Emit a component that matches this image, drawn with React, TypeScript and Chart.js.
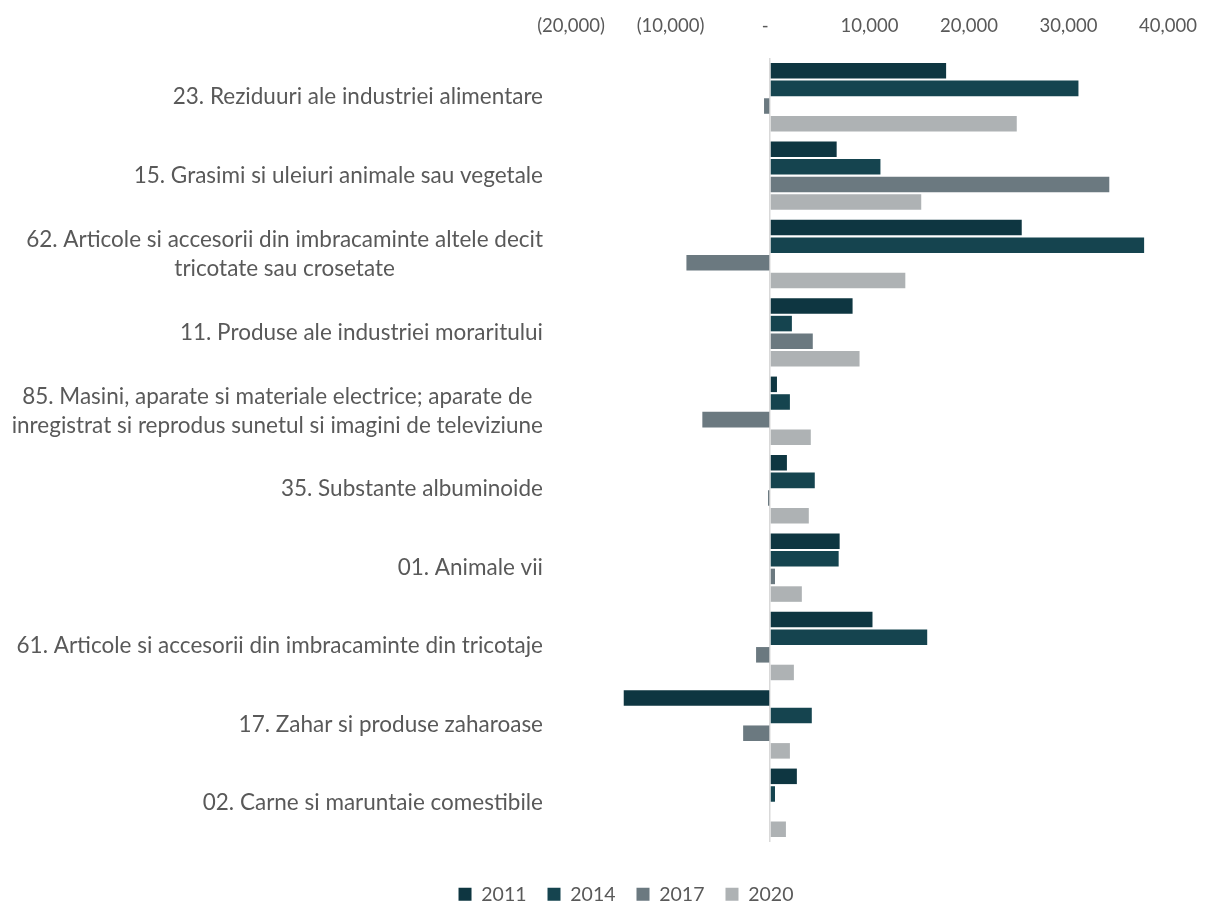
import React, { useEffect, useRef } from "react";
import { Chart, registerables } from "chart.js";

Chart.register(...registerables);

const categories: string[][] = [
  ["23. Reziduuri ale industriei alimentare"],
  ["15. Grasimi si uleiuri animale sau vegetale"],
  ["62. Articole si accesorii din imbracaminte altele decit", "tricotate sau crosetate"],
  ["11. Produse ale industriei moraritului"],
  ["85. Masini, aparate si materiale electrice; aparate de", "inregistrat si reprodus sunetul si imagini de televiziune"],
  ["35. Substante albuminoide"],
  ["01. Animale vii"],
  ["61. Articole si accesorii din imbracaminte din tricotaje"],
  ["17. Zahar si produse zaharoase"],
  ["02. Carne si maruntaie comestibile"],
];

const seriesNames = ["2011", "2014", "2017", "2020"];
const values2011 = [17700, 6700, 25300, 8300, 700, 1700, 7000, 10300, -14700, 2700];
const values2014 = [31000, 11100, 37600, 2200, 2000, 4500, 6900, 15800, 4200, 500];
const values2017 = [-600, 34100, -8400, 4300, -6800, -200, 500, -1400, -2700, 0];
const values2020 = [24800, 15200, 13600, 9000, 4100, 3900, 3200, 2400, 2000, 1600];
const seriesColors = ["#0E3641", "#15444F", "#6B7980", "#AEB2B4"];

const xMin = -20000;
const xMax = 40000;
const xStep = 10000;

const FONT = "Lato";
const TEXT = "#595959";

function fmtTick(v: number): string {
  if (v === 0) return "-  ";
  const s = Math.abs(v).toLocaleString("en-US");
  return v < 0 ? `(${s})` : s;
}

const yLabelPlugin = {
  id: "yLabels",
  afterDraw(chart: any) {
    const ctx = chart.ctx;
    const yScale = chart.scales.y;
    const right = chart.chartArea.left - 28;
    ctx.save();
    ctx.font = `22.5px ${FONT}`;
    ctx.fillStyle = TEXT;
    ctx.textAlign = "center";
    ctx.textBaseline = "middle";
    const lh = 29;
    categories.forEach((lines, i) => {
      const cy = yScale.getPixelForValue(i);
      const maxW = Math.max(...lines.map((l) => ctx.measureText(l).width));
      const cx = right - maxW / 2;
      lines.forEach((line, j) => {
        ctx.fillText(line, cx, cy + (j - (lines.length - 1) / 2) * lh);
      });
    });
    ctx.restore();
  },
};

export default function App() {
  const ref = useRef<HTMLCanvasElement>(null);
  useEffect(() => {
    if (!ref.current) return;
    const all = [values2011, values2014, values2017, values2020];
    const chart = new Chart(ref.current, {
      type: "bar",
      data: {
        labels: categories,
        datasets: seriesNames.map((name, i) => ({
          label: name,
          data: all[i],
          backgroundColor: seriesColors[i],
          borderWidth: 0,
          categoryPercentage: 0.9,
          barPercentage: 0.88,
        })),
      },
      options: {
        indexAxis: "y",
        animation: false,
        responsive: false,
        maintainAspectRatio: false,
        layout: { padding: { left: 84, right: 50, top: 0, bottom: -12 } },
        scales: {
          x: {
            type: "linear",
            position: "top",
            min: xMin,
            max: xMax,
            ticks: {
              stepSize: xStep,
              color: TEXT,
              font: { family: FONT, size: 18.5 },
              padding: 21,
              callback: (v: any) => fmtTick(Number(v)),
            },
            grid: {
              drawTicks: false,
              color: (c: any) => (c.tick && c.tick.value === 0 ? "#D9D9D9" : "rgba(0,0,0,0)"),
              lineWidth: 1.5,
            },
            border: { display: false },
            afterFit: (s: any) => {
              s.height = 58;
            },
          },
          xb: {
            type: "linear",
            position: "bottom",
            display: true,
            min: 0,
            max: 1,
            ticks: { display: false },
            grid: { display: false, drawTicks: false },
            border: { display: false },
            afterFit: (s: any) => {
              s.height = 21.5;
            },
          },
          y: {
            type: "category",
            ticks: { display: false },
            grid: { display: false, drawTicks: false },
            border: { display: false },
            afterFit: (s: any) => {
              s.width = 487;
            },
          },
        },
        plugins: {
          legend: {
            position: "bottom",
            labels: {
              color: TEXT,
              font: { family: FONT, size: 19.5 },
              boxWidth: 13,
              boxHeight: 13,
              padding: 21,
            },
          },
          tooltip: { enabled: false },
        },
      },
      plugins: [yLabelPlugin],
    });
    return () => chart.destroy();
  }, []);
  return (
    <div style={{ position: "fixed", left: 0, top: 0, width: 1218, height: 902, background: "#fff" }}>
      <canvas ref={ref} width={1218} height={902} style={{ display: "block" }} />
    </div>
  );
}
